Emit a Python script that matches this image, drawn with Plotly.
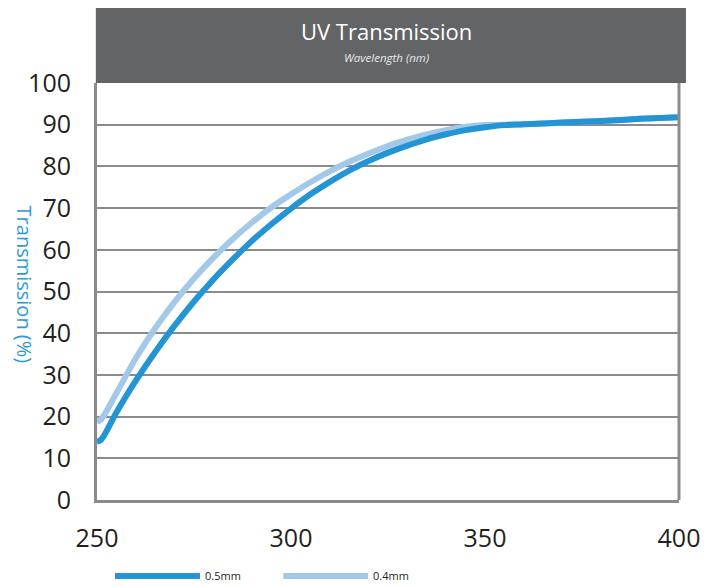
import plotly.graph_objects as go

wavelength_05 = [250, 251, 255, 260, 265, 270, 275, 280, 285, 290, 295, 300, 305, 310, 315, 320, 325, 330, 335, 340, 345, 350, 355, 360, 370, 380, 390, 400]
trans_05 = [14, 14.4, 21.0, 28.6, 35.5, 41.8, 47.6, 52.9, 57.7, 62.2, 66.2, 69.9, 73.3, 76.3, 79.0, 81.3, 83.3, 85.0, 86.5, 87.7, 88.7, 89.4, 89.9, 90.1, 90.5, 90.9, 91.4, 91.8]

wavelength_04 = [250, 251, 255, 260, 265, 270, 275, 280, 285, 290, 295, 300, 305, 310, 315, 320, 325, 330, 335, 340, 345, 350, 355, 360, 370, 380, 390, 400]
trans_04 = [18.8, 19.3, 25.6, 34.0, 41.2, 47.5, 53.1, 58.1, 62.6, 66.6, 70.2, 73.3, 76.2, 78.8, 81.1, 83.1, 84.9, 86.4, 87.7, 88.7, 89.5, 89.9, 90.0, 90.1, 90.5, 90.9, 91.4, 91.8]

series_names = ["0.5mm", "0.4mm"]
colors = ["#2394d4", "#a2c9ea"]

x_ticks = [250, 300, 350, 400]
y_ticks = [0, 10, 20, 30, 40, 50, 60, 70, 80, 90, 100]

FONT = "Open Sans"

fig = go.Figure()
fig.add_trace(go.Scatter(x=wavelength_04, y=trans_04, mode="lines", name=series_names[1],
                         line=dict(color=colors[1], width=6, shape="spline", smoothing=1),
                         showlegend=False))
fig.add_trace(go.Scatter(x=wavelength_05, y=trans_05, mode="lines", name=series_names[0],
                         line=dict(color=colors[0], width=6, shape="spline", smoothing=1),
                         showlegend=False))

grid = "#8b8b8d"
fig.update_xaxes(range=[250, 400], tickvals=x_ticks, showgrid=False, zeroline=False,
                 showline=True, linecolor=grid, linewidth=3, mirror=False,
                 tickfont=dict(family=FONT, size=25, color="#231f20"), ticks="", ticklabelstandoff=14)
fig.update_yaxes(range=[0, 100], tickvals=y_ticks, showgrid=True, gridcolor=grid, gridwidth=2,
                 zeroline=False, showline=True, linecolor=grid, linewidth=3,
                 tickfont=dict(family=FONT, size=25, color="#231f20"), ticks="", ticklabelstandoff=18)

shapes = [
    # header box
    dict(type="rect", xref="paper", yref="paper", x0=-0.002, x1=1.012, y0=1.0, y1=1.19,
         fillcolor="#636466", line=dict(width=0), layer="above"),
    # right border
    dict(type="line", xref="paper", yref="paper", x0=1, x1=1, y0=0, y1=1,
         line=dict(color=grid, width=3)),
    # legend lines
    dict(type="line", xref="paper", yref="paper", x0=0.031, x1=0.177, y0=-0.182, y1=-0.182,
         line=dict(color=colors[0], width=6)),
    dict(type="line", xref="paper", yref="paper", x0=0.320, x1=0.466, y0=-0.182, y1=-0.182,
         line=dict(color=colors[1], width=6)),
]

annotations = [
    dict(text="UV Transmission", xref="paper", yref="paper", x=0.497, y=1.124, showarrow=False,
         font=dict(family=FONT, size=22, color="white"), xanchor="center", yanchor="middle"),
    dict(text="<i>Wavelength (nm)</i>", xref="paper", yref="paper", x=0.497, y=1.062, showarrow=False,
         font=dict(family=FONT, size=11.5, color="#e8e8e8"), xanchor="center", yanchor="middle"),
    dict(text="Transmission (%)", xref="paper", yref="paper", x=-0.125, y=0.516, showarrow=False,
         textangle=90, font=dict(family=FONT, size=20, color="#2b9bd9"), xanchor="center", yanchor="middle"),
    dict(text=series_names[0], xref="paper", yref="paper", x=0.182, y=-0.182, showarrow=False,
         font=dict(family=FONT, size=11, color="#231f20"), xanchor="left", yanchor="middle"),
    dict(text=series_names[1], xref="paper", yref="paper", x=0.471, y=-0.182, showarrow=False,
         font=dict(family=FONT, size=11, color="#231f20"), xanchor="left", yanchor="middle"),
]

# page body has an 8px margin, so the figure is sized to fit the 715x587 window
fig.update_layout(width=707, height=579, margin=dict(l=89, r=36, t=75, b=87),
                  paper_bgcolor="white", plot_bgcolor="white",
                  shapes=shapes, annotations=annotations, showlegend=False)

fig.write_html("out.html")
